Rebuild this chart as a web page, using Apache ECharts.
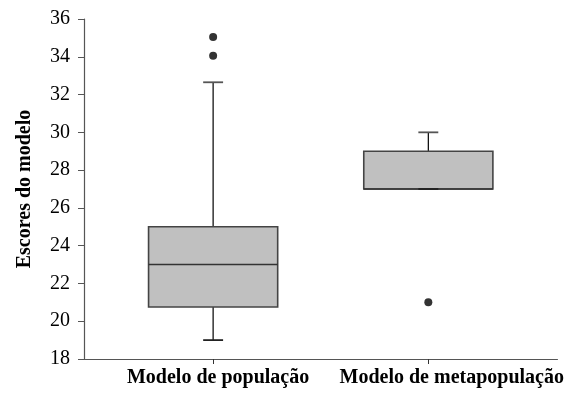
<!DOCTYPE html>
<html>
<head>
<meta charset="utf-8">
<script src="https://cdn.jsdelivr.net/npm/echarts@6/dist/echarts.min.js"></script>
<style>
html,body{margin:0;padding:0;background:#fff;}
#chart{width:567px;height:394px;}
</style>
</head>
<body>
<div id="chart"></div>
<script>
var categories = ['Modelo de população', 'Modelo de metapopulação'];
var positions = [1, 2];
var labelPositions = [1.023, 2.109];
var whiskerLow = [19, 27];
var q1 = [20.75, 27];
var median = [23, 27];
var q3 = [25, 29];
var whiskerHigh = [32.65, 30];
var outlierPos = [1, 1, 2];
var outlierVal = [35.05, 34.05, 21];
var yTicks = [18, 20, 22, 24, 26, 28, 30, 32, 34, 36];

var boxData = positions.map(function (p, i) {
  return [p, whiskerLow[i], q1[i], median[i], q3[i], whiskerHigh[i]];
});
var outlierData = outlierPos.map(function (p, i) { return [p, outlierVal[i]]; });

var FONT = 'Liberation Serif';

function renderBox(params, api) {
  var x = api.value(0);
  var lo = api.coord([x, api.value(1)]);
  var b1 = api.coord([x, api.value(2)]);
  var md = api.coord([x, api.value(3)]);
  var b3 = api.coord([x, api.value(4)]);
  var hi = api.coord([x, api.value(5)]);
  var bw = api.size([0.6, 0])[0];
  var cw = api.size([0.0926, 0])[0];
  var cx = lo[0];
  var children = [
    { type: 'line', shape: { x1: cx, y1: b3[1], x2: cx, y2: hi[1] }, style: { stroke: '#000', lineWidth: 1.2 } },
    { type: 'line', shape: { x1: cx, y1: lo[1], x2: cx, y2: b1[1] }, style: { stroke: '#000', lineWidth: 1.2 } },
    { type: 'line', shape: { x1: cx - cw / 2, y1: hi[1], x2: cx + cw / 2, y2: hi[1] }, style: { stroke: '#555', lineWidth: 1.8 } },
    { type: 'rect', shape: { x: cx - bw / 2, y: b3[1], width: bw, height: b1[1] - b3[1] }, style: { fill: '#c0c0c0', stroke: '#444', lineWidth: 1.6 } },
    { type: 'line', shape: { x1: cx - bw / 2, y1: md[1], x2: cx + bw / 2, y2: md[1] }, style: { stroke: '#333', lineWidth: 1.4 } },
    { type: 'line', shape: { x1: cx - cw / 2, y1: lo[1], x2: cx + cw / 2, y2: lo[1] }, style: { stroke: '#222', lineWidth: 1.8 } }
  ];
  return { type: 'group', children: children };
}

var chart = echarts.init(document.getElementById('chart'), null, { renderer: 'canvas' });
chart.setOption({
  animation: false,
  backgroundColor: '#fff',
  textStyle: { fontFamily: FONT },
  grid: { left: 84, right: 9, top: 19, bottom: 35, containLabel: false },
  xAxis: {
    type: 'value',
    min: 0.4,
    max: 2.6,
    splitLine: { show: false },
    axisLine: { show: true, lineStyle: { color: '#555', width: 1.2 } },
    axisTick: { show: true, inside: false, length: 5, customValues: positions, lineStyle: { color: '#333' } },
    axisLabel: {
      show: true,
      customValues: labelPositions,
      margin: 9,
      fontFamily: FONT,
      fontWeight: 'bold',
      fontSize: 20,
      color: '#000',
      formatter: function (v) {
        var best = 0, d = Infinity;
        labelPositions.forEach(function (p, i) {
          if (Math.abs(p - v) < d) { d = Math.abs(p - v); best = i; }
        });
        return categories[best];
      }
    }
  },
  yAxis: {
    type: 'value',
    min: 18,
    max: 36,
    interval: 2,
    name: 'Escores do modelo',
    nameLocation: 'middle',
    nameGap: 49,
    nameTextStyle: { fontFamily: FONT, fontWeight: 'bold', fontSize: 20, color: '#000' },
    splitLine: { show: false },
    axisLine: { show: true, lineStyle: { color: '#555', width: 1.2 } },
    axisTick: { show: true, inside: false, length: 6, lineStyle: { color: '#555' } },
    axisLabel: {
      margin: 14,
      fontFamily: FONT,
      fontSize: 20,
      color: '#000',
      customValues: yTicks
    }
  },
  series: [
    {
      type: 'custom',
      renderItem: renderBox,
      data: boxData,
      encode: { x: 0, y: [1, 2, 3, 4, 5] },
      z: 2
    },
    {
      type: 'scatter',
      data: outlierData,
      symbol: 'circle',
      symbolSize: 8,
      itemStyle: { color: '#000' },
      z: 3
    }
  ]
});
</script>
</body>
</html>
